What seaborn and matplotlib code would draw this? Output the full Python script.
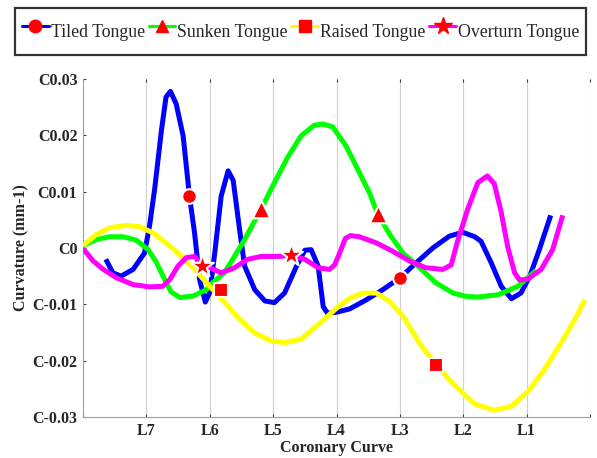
import matplotlib
matplotlib.use("Agg")
import matplotlib.pyplot as plt
from matplotlib.lines import Line2D
import seaborn as sns
import pandas as pd

# ---------------- data ----------------
series_names = ["Tiled Tongue", "Sunken Tongue", "Raised Tongue", "Overturn Tongue"]
line_colors = ["#0000FF", "#00FF00", "#FFFF00", "#FF00FF"]
marker_shapes = ["o", "^", "s", "*"]

tick_labels = ["", "L7", "L6", "L5", "L4", "L3", "L2", "L1", ""]
y_ticks = [-0.03, -0.02, -0.01, 0.0, 0.01, 0.02, 0.03]
y_tick_labels = ["C-0.03", "C-0.02", "C-0.01", "C0", "C0.01", "C0.02", "C0.03"]

tiled_x = [0.36, 0.47, 0.60, 0.79, 0.97, 1.05, 1.13, 1.24, 1.31, 1.38, 1.47, 1.58, 1.68, 1.76, 1.84,
           1.93, 2.00, 2.08, 2.18, 2.29, 2.37, 2.47, 2.55, 2.71, 2.87, 3.02, 3.18, 3.37, 3.50, 3.60,
           3.71, 3.79, 3.86, 4.00, 4.21, 4.47, 4.73, 5.00, 5.26, 5.52, 5.78, 5.99, 6.18, 6.28, 6.44,
           6.60, 6.76, 6.91, 7.05, 7.20, 7.38]
tiled_y = [-0.0020, -0.0044, -0.0050, -0.0038, -0.0009, 0.0039, 0.0104, 0.0211, 0.0268, 0.0278,
           0.0256, 0.0199, 0.0092, 0.0027, -0.0056, -0.0096, -0.0079, -0.0008, 0.0092, 0.0137,
           0.0120, 0.0033, -0.0032, -0.0074, -0.0094, -0.0097, -0.0080, -0.0032, -0.0004, -0.0003,
           -0.0032, -0.0104, -0.0116, -0.0114, -0.0108, -0.0092, -0.0074, -0.0053, -0.0026, 0.0000,
           0.0021, 0.0028, 0.0020, 0.0012, -0.0026, -0.0068, -0.0090, -0.0080, -0.0050, -0.0003,
           0.0058]

sunken_x = [0.00, 0.21, 0.42, 0.63, 0.84, 1.03, 1.16, 1.29, 1.39, 1.53, 1.74, 1.95, 2.02, 2.23,
            2.39, 2.55, 2.81, 3.02, 3.23, 3.44, 3.65, 3.79, 3.94, 4.15, 4.36, 4.52, 4.65, 4.84,
            5.05, 5.31, 5.57, 5.84, 6.05, 6.23, 6.55, 6.86, 7.15]
sunken_y = [0.0004, 0.0015, 0.0020, 0.0020, 0.0014, -0.0003, -0.0026, -0.0056, -0.0078, -0.0088,
            -0.0085, -0.0074, -0.0064, -0.0044, -0.0015, 0.0015, 0.0069, 0.0116, 0.0161, 0.0199,
            0.0218, 0.0220, 0.0215, 0.0181, 0.0134, 0.0098, 0.0060, 0.0024, -0.0009, -0.0035,
            -0.0062, -0.0080, -0.0086, -0.0087, -0.0083, -0.0068, -0.0040]

raised_x = [0.00, 0.21, 0.42, 0.68, 0.89, 1.10, 1.31, 1.53, 1.74, 1.95, 2.10, 2.24, 2.45, 2.71,
            2.97, 3.18, 3.44, 3.71, 4.00, 4.21, 4.42, 4.63, 4.84, 5.05, 5.31, 5.57, 5.78, 5.99,
            6.18, 6.49, 6.76, 7.02, 7.28, 7.54, 7.76, 7.92]
raised_y = [0.0004, 0.0024, 0.0036, 0.0040, 0.0038, 0.0027, 0.0009, -0.0012, -0.0035, -0.0062,
            -0.0080, -0.0097, -0.0124, -0.0151, -0.0165, -0.0168, -0.0162, -0.0136, -0.0107,
            -0.0089, -0.0080, -0.0080, -0.0095, -0.0121, -0.0169, -0.0207, -0.0234, -0.0257,
            -0.0277, -0.0288, -0.0281, -0.0255, -0.0216, -0.0169, -0.0127, -0.0092]

overturn_x = [0.00, 0.16, 0.32, 0.53, 0.79, 1.05, 1.26, 1.37, 1.50, 1.63, 1.76, 1.88, 2.00, 2.18,
              2.39, 2.60, 2.81, 3.07, 3.28, 3.50, 3.71, 3.89, 3.97, 4.05, 4.14, 4.22, 4.36, 4.63,
              4.89, 5.15, 5.41, 5.68, 5.81, 5.91, 5.99, 6.07, 6.23, 6.38, 6.49, 6.60, 6.70, 6.81,
              6.89, 7.02, 7.23, 7.41, 7.57]
overturn_y = [-0.0001, -0.0023, -0.0038, -0.0053, -0.0065, -0.0069, -0.0068, -0.0056, -0.0032,
              -0.0017, -0.0015, -0.0030, -0.0035, -0.0044, -0.0035, -0.0020, -0.0015, -0.0015,
              -0.0013, -0.0020, -0.0035, -0.0038, -0.0030, -0.0009, 0.0017, 0.0022, 0.0020,
              0.0009, -0.0006, -0.0023, -0.0035, -0.0038, -0.0030, 0.0012, 0.0040, 0.0069,
              0.0116, 0.0128, 0.0114, 0.0063, 0.0003, -0.0044, -0.0057, -0.0055, -0.0038,
              -0.0003, 0.0058]

# marker points placed on each curve
tiled_mx, tiled_my = [1.68, 5.00], [0.0092, -0.0053]
sunken_mx, sunken_my = [2.81, 4.65], [0.0069, 0.0060]
raised_mx, raised_my = [2.18, 5.57], [-0.0075, -0.0207]
overturn_mx, overturn_my = [1.88, 3.28], [-0.0032, -0.0013]

# ---------------- build tables ----------------
curves = [(tiled_x, tiled_y), (sunken_x, sunken_y), (raised_x, raised_y), (overturn_x, overturn_y)]
marks = [(tiled_mx, tiled_my), (sunken_mx, sunken_my), (raised_mx, raised_my), (overturn_mx, overturn_my)]

line_df = pd.concat([pd.DataFrame({"x": xs, "y": ys, "series": n})
                     for n, (xs, ys) in zip(series_names, curves)], ignore_index=True)
mark_df = pd.concat([pd.DataFrame({"x": xs, "y": ys, "series": n})
                     for n, (xs, ys) in zip(series_names, marks)], ignore_index=True)

# ---------------- plot ----------------
sns.set_style("white")
plt.rcParams["font.family"] = ["Liberation Serif", "DejaVu Serif"]

fig = plt.figure(figsize=(5.97, 4.58), dpi=100)
ax = fig.add_axes([83 / 597, 1 - 417 / 458, (590 - 83) / 597, (417 - 79) / 458])

palette = dict(zip(series_names, line_colors))
sns.lineplot(data=line_df, x="x", y="y", hue="series", palette=palette, sort=False,
             estimator=None, linewidth=3.6, legend=False, ax=ax, zorder=3)
for line in ax.get_lines():
    line.set_solid_capstyle("butt")
    line.set_solid_joinstyle("round")

marker_sizes = {"o": 110, "^": 160, "s": 100, "*": 300}
for n, m in zip(series_names, marker_shapes):
    sub = mark_df[mark_df["series"] == n]
    sns.scatterplot(data=sub, x="x", y="y", marker=m, s=marker_sizes[m], color="#FF0000",
                    edgecolor="white", linewidth=1.5, ax=ax, zorder=5, legend=False)

ax.set_xlim(0, 8)
ax.set_ylim(-0.03, 0.03)
ax.set_xticks(range(9))
ax.set_xticklabels(tick_labels, fontweight="bold", fontsize=11.5)
ax.set_yticks(y_ticks)
ax.set_yticklabels(y_tick_labels, fontweight="bold", fontsize=11.5)
ax.set_xlabel("Coronary Curve", fontweight="bold", fontsize=11.5, labelpad=1)
ax.set_ylabel("Curvature (mm-1)", fontweight="bold", fontsize=11.5, labelpad=2)

ax.grid(axis="x", color="#d0d0d0", linewidth=0.8)
ax.grid(axis="y", visible=False)
for side in ["top", "right"]:
    ax.spines[side].set_visible(False)
for side in ["left", "bottom"]:
    ax.spines[side].set_color("#a0a0a0")
    ax.spines[side].set_linewidth(0.8)
ax.tick_params(axis="both", direction="in", length=2, width=0.8, color="#404040",
               top=True, left=True, bottom=True, pad=4)

handles = [Line2D([], [], color=c, linewidth=2.2, marker=m, markersize=(9 if m != "*" else 13),
                  markerfacecolor="#FF0000", markeredgecolor="#FF0000")
           for c, m in zip(line_colors, marker_shapes)]
leg = fig.legend(handles, series_names, loc="upper left", bbox_to_anchor=(15 / 597, 1 - 8 / 458),
                 ncol=4, frameon=True, fancybox=False, fontsize=12.8, handlelength=1.5,
                 handleheight=2.5, handletextpad=0.12, columnspacing=0.2, borderpad=0.4,
                 borderaxespad=0)
leg.get_frame().set_edgecolor("black")
leg.get_frame().set_linewidth(1.6)

fig.savefig("out.png", dpi=100)
